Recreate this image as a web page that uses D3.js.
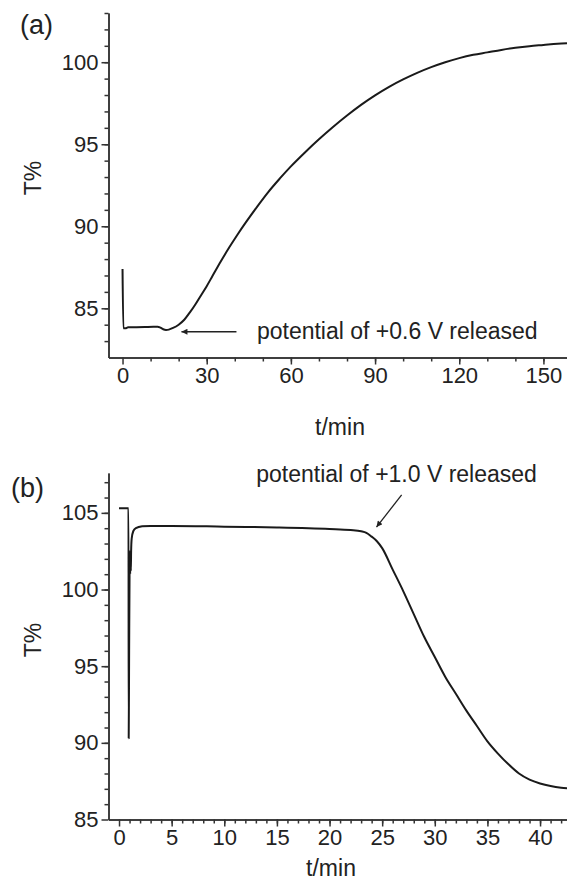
<!DOCTYPE html>
<html>
<head>
<meta charset="utf-8">
<script src="https://cdn.jsdelivr.net/npm/d3@7"></script>
<style>
  body { margin: 0; background: #fff; }
  svg { display: block; }
  .axis path, .axis line { stroke: #333; stroke-width: 1.5; }
  .axis text { font-family: "Liberation Sans", Arial, sans-serif; font-size: 22px; fill: #222; }
  .title { font-family: "Liberation Sans", Arial, sans-serif; font-size: 23px; fill: #222; }
  .curve { fill: none; stroke: #1a1a1a; stroke-width: 2; stroke-linejoin: round; }
</style>
</head>
<body>
<div id="chart"></div>
<script>
// panel (a): recovery after +0.6 V released
var timeA = [0, 0.3, 1, 2, 5, 8, 11, 12.5, 13.5, 14.5, 15.5, 16.5, 18, 20, 22, 24, 26, 28, 30, 32,
             35, 38, 41, 44, 48, 52, 56, 60, 65, 70, 75, 80, 85, 90, 95, 100, 105, 110, 115, 120,
             125, 130, 135, 140, 145, 150, 155, 158.4];
var transA = [87.4, 83.78, 83.78, 83.84, 83.85, 83.86, 83.87, 83.88, 83.82, 83.72, 83.68, 83.7, 83.8, 84.0,
              84.3, 84.75, 85.25, 85.8, 86.35, 86.95, 87.85, 88.7, 89.5, 90.25, 91.2, 92.1, 92.9, 93.65,
              94.5, 95.3, 96.05, 96.75, 97.4, 97.98, 98.5, 98.95, 99.35, 99.7, 100.0, 100.25, 100.45,
              100.6, 100.75, 100.88, 100.98, 101.05, 101.12, 101.15];

// panel (b): decay after +1.0 V released
var timeB = [0, 0.9, 0.92, 0.96, 1.0, 1.03, 1.06, 1.09, 1.12, 1.15, 1.2, 1.35, 1.6, 2.2, 3, 5, 10, 15, 20,
             22, 23, 23.5, 24, 24.5, 25, 26, 27, 28, 29, 30, 31, 32, 33, 34, 35, 36, 37, 38, 39, 40,
             41, 42, 42.6];
var transB = [105.3, 105.3, 90.3, 96.0, 101.0, 102.5, 101.0, 102.4, 101.2, 102.5, 103.3, 103.8, 104.0,
              104.12, 104.15, 104.15, 104.1, 104.05, 103.95, 103.88, 103.8, 103.7, 103.45, 103.15,
              102.7, 101.3, 99.9, 98.4, 96.9, 95.6, 94.3, 93.2, 92.1, 91.1, 90.1, 89.3, 88.6, 88.0,
              87.6, 87.35, 87.18, 87.07, 87.03];

var xTicksA = [0, 30, 60, 90, 120, 150];
var yTicksA = [85, 90, 95, 100];
var xTicksB = [0, 5, 10, 15, 20, 25, 30, 35, 40];
var yTicksB = [85, 90, 95, 100, 105];

var w = 567, h = 881;

var svg = d3.select("#chart").append("svg")
    .attr("width", w)
    .attr("height", h);

svg.append("defs").append("marker")
    .attr("id", "head")
    .attr("viewBox", "0 0 10 10")
    .attr("refX", 10)
    .attr("refY", 5)
    .attr("markerWidth", 10)
    .attr("markerHeight", 6)
    .attr("markerUnits", "userSpaceOnUse")
    .attr("orient", "auto")
    .append("path")
    .attr("d", "M0,0L10,5L0,10z")
    .attr("fill", "#222");

function panel(opt) {
    var x = d3.scaleLinear().domain(opt.xDomain).range([108.5, 567]);
    var y = d3.scaleLinear().domain(opt.yDomain).range(opt.yRange);
    var bottom = opt.yRange[0];

    // minor ticks first, then major with labels
    svg.append("g")
        .attr("class", "axis")
        .attr("transform", "translate(0," + bottom + ")")
        .call(d3.axisBottom(x).tickValues(opt.xMinor).tickSize(4).tickSizeOuter(0).tickFormat(""));
    svg.append("g")
        .attr("class", "axis")
        .attr("transform", "translate(0," + bottom + ")")
        .call(d3.axisBottom(x).tickValues(opt.xTicks).tickSize(7).tickSizeOuter(0).tickPadding(3));

    svg.append("g")
        .attr("class", "axis")
        .attr("transform", "translate(108.5,0)")
        .call(d3.axisLeft(y).tickValues(opt.yMinor).tickSize(4).tickSizeOuter(0).tickFormat(""));
    svg.append("g")
        .attr("class", "axis")
        .attr("transform", "translate(108.5,0)")
        .call(d3.axisLeft(y).tickValues(opt.yTicks).tickSize(7).tickSizeOuter(0).tickPadding(3));

    var line = d3.line()
        .curve(d3.curveMonotoneX)
        .x(function (d) { return x(d[0]); })
        .y(function (d) { return y(d[1]); });

    svg.append("path")
        .attr("class", "curve")
        .attr("d", line(d3.zip(opt.t, opt.v)));

    // axis titles
    svg.append("text")
        .attr("class", "title")
        .attr("x", opt.xTitle[0])
        .attr("y", opt.xTitle[1])
        .attr("text-anchor", "middle")
        .text("t/min");
    svg.append("text")
        .attr("class", "title")
        .attr("transform", "translate(41," + opt.yTitle + ") rotate(-90)")
        .attr("text-anchor", "middle")
        .text("T%");
    svg.append("text")
        .attr("class", "title")
        .style("font-size", "27px")
        .attr("x", opt.tag[0])
        .attr("y", opt.tag[1])
        .text(opt.tagText);

    // annotation arrow + label, placed in data units
    svg.append("line")
        .attr("x1", x(opt.arrow[0][0])).attr("y1", y(opt.arrow[0][1]))
        .attr("x2", x(opt.arrow[1][0])).attr("y2", y(opt.arrow[1][1]))
        .attr("stroke", "#222")
        .attr("stroke-width", 1.3)
        .attr("marker-end", "url(#head)");
    svg.append("text")
        .attr("class", "title")
        .attr("x", x(opt.note[0]))
        .attr("y", y(opt.note[1]))
        .attr("text-anchor", opt.noteAnchor)
        .text(opt.noteText);
}

panel({
    xDomain: [-5, 158.4], yDomain: [82, 103], yRange: [357.5, 13],
    xTicks: xTicksA, xMinor: d3.range(10, 160, 10),
    yTicks: yTicksA, yMinor: d3.range(83, 104, 1),
    t: timeA, v: transA,
    xTitle: [340, 435], yTitle: 178, tag: [20, 34], tagText: "(a)",
    arrow: [[40.6, 83.57], [21.0, 83.57]],
    note: [47.9, 83.1], noteAnchor: "start", noteText: "potential of +0.6 V released"
});

panel({
    xDomain: [-1, 42.56], yDomain: [85, 107.6], yRange: [819.5, 473],
    xTicks: xTicksB, xMinor: d3.range(1, 43, 1),
    yTicks: yTicksB, yMinor: d3.range(86, 108, 1),
    t: timeB, v: transB,
    xTitle: [331, 876], yTitle: 640, tag: [11, 497], tagText: "(b)",
    arrow: [[26.85, 106.17], [24.46, 104.07]],
    note: [39.7, 107.04], noteAnchor: "end", noteText: "potential of +1.0 V released"
});
</script>
</body>
</html>
